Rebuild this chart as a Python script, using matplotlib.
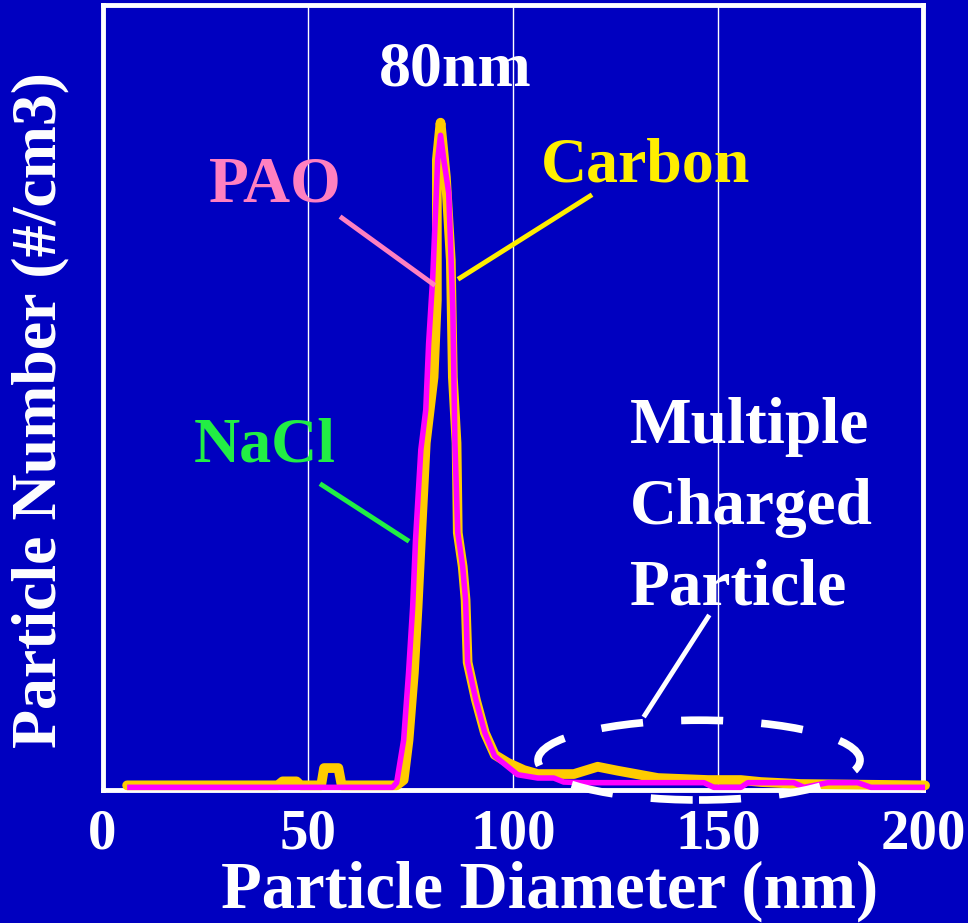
import matplotlib
matplotlib.use("Agg")
import matplotlib.pyplot as plt
from matplotlib.patches import Ellipse

# ---- data ----
carbon_x = [6.0, 42.7, 43.9, 47.3, 48.3, 53.3, 54.0, 57.5, 58.3, 71.7, 73.4, 74.6, 75.9, 76.8,
            77.6, 78.8, 79.8, 80.7, 81.5, 81.5, 82.4, 83.7, 84.9, 85.4, 86.3, 86.6, 87.8,
            88.5, 89.0, 91.0, 93.2, 95.6, 98.8, 102.7, 106.1, 114.9, 120.7, 125.6, 135.4,
            147.6, 155.6, 160.5, 170.2, 200.5]
carbon_y = [0.003, 0.003, 0.009, 0.009, 0.003, 0.003, 0.029, 0.029, 0.003, 0.003, 0.011, 0.071,
            0.172, 0.271, 0.372, 0.518, 0.57, 0.617, 0.733, 0.944, 1.0, 0.918, 0.793, 0.617,
            0.518, 0.383, 0.332, 0.282, 0.188, 0.132, 0.082, 0.049, 0.037, 0.026, 0.020,
            0.020, 0.031, 0.025, 0.014, 0.011, 0.011, 0.008, 0.005, 0.003]

pao_x = [6.0, 70.7, 71.7, 73.4, 74.6, 75.6, 76.3, 77.6, 78.8, 79.5, 80.5, 81.2, 81.7, 82.4,
         83.2, 84.4, 85.4, 85.9, 86.6, 87.8, 88.5, 89.0, 91.0, 93.2, 95.6, 101.2, 106.1,
         110.0, 112.4, 116.6, 146.6, 149.0, 155.6, 157.3, 168.5, 171.0, 176.8, 184.1,
         187.3, 200.5]
pao_y = [0.0, 0.0, 0.007, 0.071, 0.172, 0.271, 0.372, 0.508, 0.568, 0.668, 0.768, 0.869,
         0.944, 0.981, 0.944, 0.894, 0.718, 0.518, 0.383, 0.332, 0.282, 0.188, 0.132, 0.082,
         0.047, 0.019, 0.014, 0.014, 0.008, 0.007, 0.007, 0.0, 0.0, 0.007, 0.007, 0.0,
         0.007, 0.007, 0.0, 0.0]

x_ticks = [0, 50, 100, 150, 200]
x_ticklabels = ["0", "50", "100", "150", "200"]

BG = "#0000C0"
W, H = 968, 923
FONT = "Liberation Serif"

fig = plt.figure(figsize=(W / 100, H / 100), dpi=100, facecolor=BG)
ax = fig.add_axes([102.5 / W, 1 - 790 / H, (923 - 102.5) / W, (790 - 5) / H])
ax.set_facecolor(BG)
ax.set_xlim(0, 200)
ax.set_ylim(-0.004, 1.177)

for s in ax.spines.values():
    s.set_color("white")
    s.set_linewidth(3.5)

ax.set_xticks(x_ticks)
ax.set_xticklabels(x_ticklabels, fontfamily=FONT, fontweight="bold", fontsize=41, color="white")
ax.set_yticks([])
ax.tick_params(axis="x", length=0, pad=13)
for g in x_ticks[1:-1]:
    ax.axvline(g, color="white", lw=1.0, zorder=1)

ax.plot(carbon_x, carbon_y, color="#FFCC00", lw=7, solid_joinstyle="round",
        solid_capstyle="round", zorder=3, clip_on=False)
ax.plot(pao_x, pao_y, color="#FF00FF", lw=4, solid_joinstyle="round",
        solid_capstyle="butt", zorder=4, clip_on=False)

# dashed ellipse around multiple-charged particles
ell = Ellipse((145.4, 0.041), 78.5, 0.12, fill=False, edgecolor="white", lw=5.5,
              linestyle=(0, (5.5, 5)), zorder=5, clip_on=False)
ax.add_patch(ell)

def ftxt(x, y, s, **kw):
    fig.text(x / W, 1 - y / H, s, fontfamily=FONT, fontweight="bold", **kw)

def fline(x0, y0, x1, y1, color, lw):
    fig.add_artist(plt.Line2D([x0 / W, x1 / W], [1 - y0 / H, 1 - y1 / H],
                              color=color, lw=lw, transform=fig.transFigure, zorder=6))

# axis labels
ftxt(550, 891, "Particle Diameter (nm)", fontsize=48, color="white", ha="center", va="center")
ftxt(40, 410, "Particle Number (#/cm3)", fontsize=46, color="white", ha="center",
     va="center", rotation=90)

# annotations
ftxt(455, 70, "80nm", fontsize=46, color="white", ha="center", va="center")
ftxt(275, 186, "PAO", fontsize=47, color="#FF80C0", ha="center", va="center")
fline(342, 218, 433, 284, "#FF80C0", 3.5)
ftxt(646, 167, "Carbon", fontsize=46, color="#FFEE00", ha="center", va="center")
fline(590, 196, 460, 278, "#FFEE00", 3.5)
ftxt(265, 447, "NaCl", fontsize=46, color="#22EE44", ha="center", va="center")
fline(322, 485, 407, 540, "#22EE44", 3.5)
ftxt(630, 508, "Multiple\nCharged\nParticle", fontsize=47, color="white", ha="left",
     va="center", linespacing=1.45)
fline(708, 617, 645, 715, "white", 3.5)

fig.savefig("out.png", dpi=100, facecolor=BG)
